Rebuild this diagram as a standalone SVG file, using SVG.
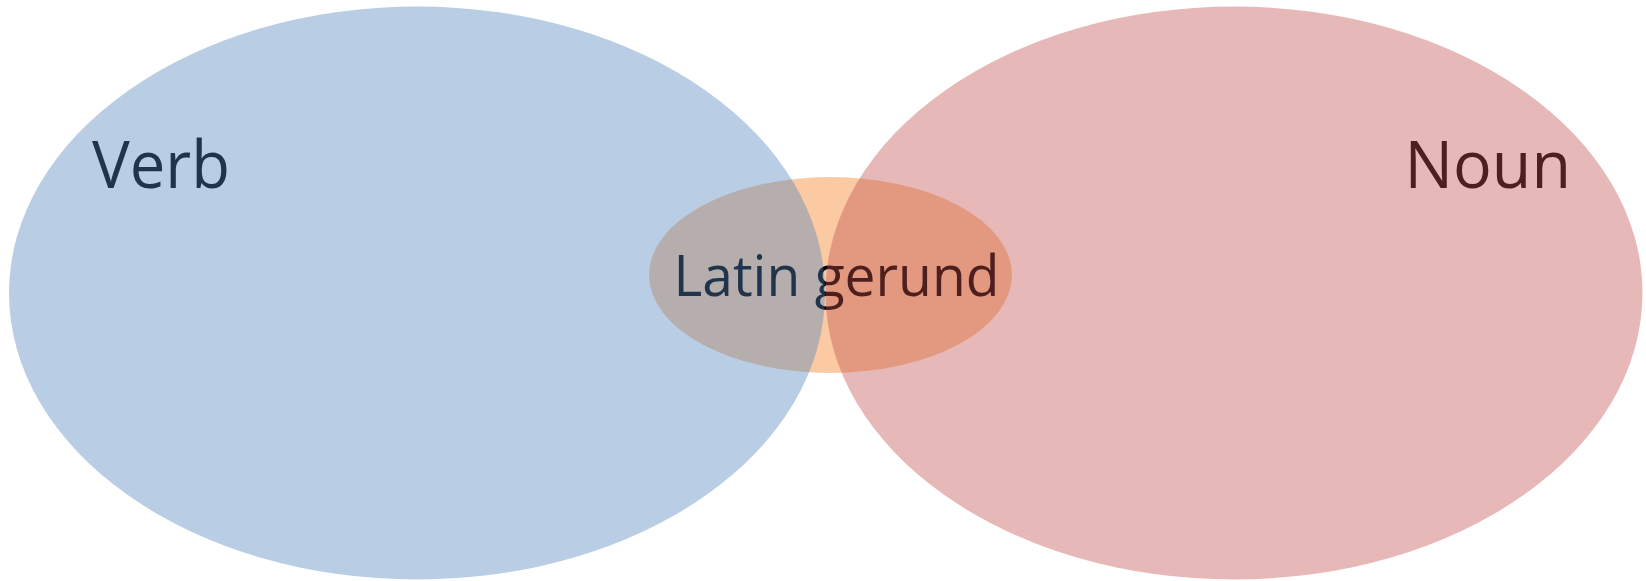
<svg xmlns="http://www.w3.org/2000/svg" width="1646" height="581" viewBox="0 0 1646 581">
  <style>
    .lbl { font-family: "Open Sans", "Noto Sans", "Liberation Sans", sans-serif; fill: #000000; }
    .big { font-size: 66px; }
    .mid { font-size: 57px; }
    .orange { fill: #F79646; fill-opacity: 0.5; }
    .blue { fill: #4F81BD; fill-opacity: 0.4; }
    .red { fill: #C0504D; fill-opacity: 0.4; }
  </style>
  <rect x="0" y="0" width="1646" height="581" fill="#FFFFFF"/>
  <g id="node-latin-gerund">
    <ellipse class="orange" cx="830.5" cy="275" rx="181.5" ry="98"/>
    <text class="lbl mid" x="673.5" y="295.5" textLength="326" lengthAdjust="spacingAndGlyphs">Latin gerund</text>
  </g>
  <g id="node-verb">
    <text class="lbl big" x="92" y="188" textLength="138" lengthAdjust="spacingAndGlyphs">Verb</text>
    <ellipse class="blue" cx="417" cy="293" rx="408" ry="286.5"/>
  </g>
  <g id="node-noun">
    <text class="lbl big" x="1404.5" y="187.5" textLength="166.5" lengthAdjust="spacingAndGlyphs">Noun</text>
    <ellipse class="red" cx="1234" cy="293" rx="408.5" ry="286.5"/>
  </g>
  <g id="connectors"/>
</svg>
